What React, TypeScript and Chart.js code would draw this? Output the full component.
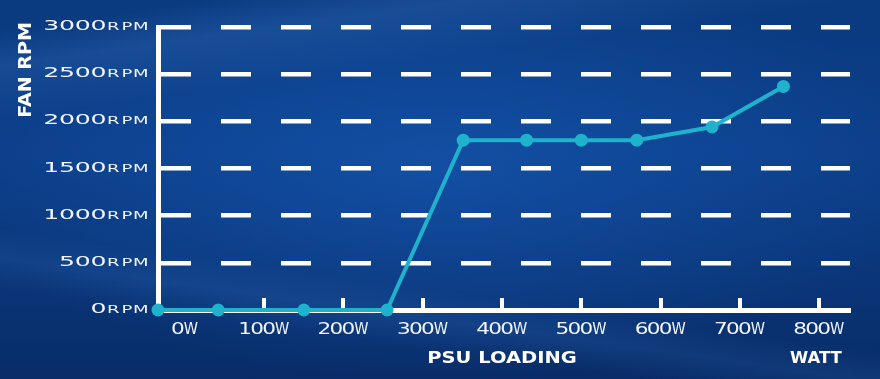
import React, { useEffect, useRef } from "react";
import { Chart, registerables } from "chart.js";

Chart.register(...registerables);

// PSU load (W) at each measurement and the fan speed measured there
const loadWatts = [-34, 42, 150, 255, 351, 431, 500, 570, 665, 755];
const fanRpm = [0, 0, 0, 0, 1800, 1800, 1800, 1800, 1940, 2370];

// axis ticks
const wattTicks = [0, 100, 200, 300, 400, 500, 600, 700, 800];
const rpmTicks = [0, 500, 1000, 1500, 2000, 2500, 3000];

const LINE_COLOR = "#1fb2cd";
const TEXT_COLOR = "#f1f5ff";
const FONT = "'DejaVu Sans', sans-serif";

type Run = { text: string; size: number; bold?: boolean; sx: number; cell: number };

// draws text as fixed-width, horizontally stretched character cells
function drawRuns(
  ctx: CanvasRenderingContext2D,
  runs: Run[],
  x: number,
  baseline: number,
  align: "right" | "center"
) {
  const total = runs.reduce((s, r) => s + r.text.length * r.cell, 0);
  let cx = align === "right" ? x - total : x - total / 2;
  for (const r of runs) {
    ctx.font = `${r.bold ? "bold " : ""}${r.size}px ${FONT}`;
    for (const ch of r.text) {
      ctx.save();
      ctx.translate(cx + r.cell / 2, baseline);
      ctx.scale(r.sx, 1);
      ctx.textAlign = "center";
      ctx.textBaseline = "alphabetic";
      ctx.fillText(ch, 0, 0);
      ctx.restore();
      cx += r.cell;
    }
  }
}

// draws a whole string stretched horizontally around a centre point
function drawStretched(
  ctx: CanvasRenderingContext2D,
  text: string,
  cx: number,
  cy: number,
  size: number,
  sx: number,
  angle = 0
) {
  ctx.save();
  ctx.translate(cx, cy);
  ctx.rotate(angle);
  ctx.scale(sx, 1);
  ctx.font = `bold ${size}px ${FONT}`;
  ctx.textAlign = "center";
  ctx.textBaseline = "alphabetic";
  ctx.fillStyle = "#ffffff";
  ctx.fillText(text, 0, size * 0.729 * 0.5);
  ctx.restore();
}

const decorPlugin = {
  id: "fanDecor",
  beforeDatasetsDraw(chart: any) {
    const { ctx, chartArea, scales } = chart;
    const x = scales.x;
    ctx.save();
    ctx.fillStyle = "#ffffff";
    // short tick marks standing on the load axis
    for (const t of x.ticks) {
      if (t.value <= 0) continue;
      const px = x.getPixelForValue(t.value);
      ctx.fillRect(Math.round(px) - 2, chartArea.bottom - 12, 4, 11);
    }
    ctx.restore();
  },
  afterDraw(chart: any) {
    const { ctx, chartArea, scales } = chart;
    const x = scales.x;
    const y = scales.y;
    ctx.save();
    ctx.fillStyle = TEXT_COLOR;
    // fan speed labels: large digits + small-caps unit
    for (const t of y.ticks) {
      const py = y.getPixelForValue(t.value);
      drawRuns(
        ctx,
        [
          { text: String(t.value), size: 14, sx: 1.8, cell: 15.75 },
          { text: "RPM", size: 10, sx: 1.8, cell: 13.7 },
        ],
        chartArea.left - 10.5,
        py + 3,
        "right"
      );
    }
    // load labels
    for (const t of x.ticks) {
      const px = x.getPixelForValue(t.value);
      drawRuns(
        ctx,
        [
          { text: String(t.value), size: 16, sx: 1.35, cell: 12 },
          { text: "W", size: 16, sx: 0.9, cell: 14 },
        ],
        px,
        chartArea.bottom + 24,
        "center"
      );
    }
    // axis titles
    drawStretched(ctx, "PSU LOADING", x.getPixelForValue(400), chartArea.bottom + 48, 15, 1.3);
    drawStretched(ctx, "WATT", x.getPixelForValue(796), chartArea.bottom + 48, 15, 1.1);
    drawStretched(ctx, "FAN RPM", 25, 70, 17, 1.12, -Math.PI / 2);
    ctx.restore();
  },
};

export default function App() {
  const canvasRef = useRef<HTMLCanvasElement | null>(null);

  useEffect(() => {
    const canvas = canvasRef.current;
    if (!canvas) return;
    const chart = new Chart(canvas, {
      type: "line",
      data: {
        datasets: [
          {
            label: "Fan speed",
            data: loadWatts.map((w, i) => ({ x: w, y: fanRpm[i] })),
            borderColor: LINE_COLOR,
            backgroundColor: LINE_COLOR,
            borderWidth: 4,
            pointRadius: 6.5,
            pointBorderWidth: 0,
            pointBackgroundColor: LINE_COLOR,
            tension: 0,
            clip: false as any,
          },
        ],
      },
      options: {
        animation: false,
        responsive: false,
        devicePixelRatio: 1,
        layout: { padding: { top: 27, right: 30, bottom: 0, left: 0 } },
        plugins: {
          legend: { display: false },
          tooltip: { enabled: false },
        },
        scales: {
          x: {
            type: "linear",
            min: -34,
            max: 839,
            afterBuildTicks: (scale: any) => {
              scale.ticks = wattTicks.map((v) => ({ value: v }));
            },
            afterFit: (scale: any) => {
              scale.height = 69;
            },
            ticks: { display: false },
            grid: { display: true, color: "rgba(0,0,0,0)", drawTicks: false },
            border: { display: true, color: "#ffffff", width: 5 },
          },
          y: {
            type: "linear",
            min: 0,
            max: 3000,
            afterBuildTicks: (scale: any) => {
              scale.ticks = rpmTicks.map((v) => ({ value: v }));
            },
            afterFit: (scale: any) => {
              scale.width = 158;
            },
            ticks: { display: false },
            grid: {
              color: (c: any) => (c.tick && c.tick.value === 0 ? "rgba(0,0,0,0)" : "#ffffff"),
              lineWidth: 4.5,
              drawTicks: false,
            },
            border: { display: true, color: "#ffffff", width: 5, dash: [30, 30] },
          },
        },
      },
      plugins: [decorPlugin],
    });
    return () => chart.destroy();
  }, []);

  return (
    <div
      style={{
        position: "fixed",
        left: 0,
        top: 0,
        width: 880,
        height: 379,
        overflow: "hidden",
        background: [
          "linear-gradient(172deg, rgba(0,0,0,0) 6%, rgba(90,150,230,0.16) 13%, rgba(0,0,0,0) 24%)",
          "linear-gradient(8deg, rgba(0,0,0,0) 18%, rgba(70,130,210,0.14) 24%, rgba(0,0,0,0) 30%)",
          "radial-gradient(ellipse 55% 55% at 50% 45%, rgba(25,95,190,0.5) 0%, rgba(25,95,190,0) 100%)",
          "linear-gradient(180deg, #0a3a7f 0%, #0c3f8a 40%, #0a3577 75%, #082c68 100%)",
        ].join(", "),
      }}
    >
      <canvas ref={canvasRef} width={880} height={379} style={{ display: "block" }} />
    </div>
  );
}
